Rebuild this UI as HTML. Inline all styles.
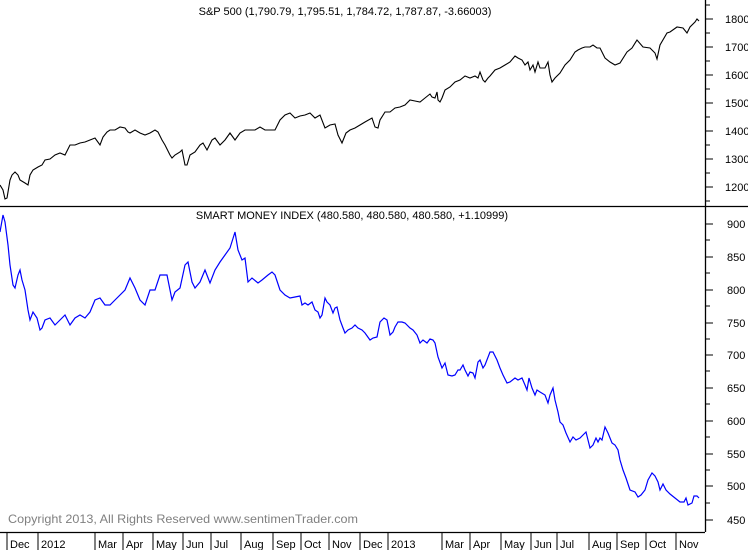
<!DOCTYPE html>
<html><head><style>
body{margin:0;background:#fff;}
svg{display:block;font-family:"Liberation Sans",Arial,sans-serif;}
</style></head><body>
<svg width="748" height="550" viewBox="0 0 748 550">
<rect width="748" height="550" fill="#fff"/>
<text x="345" y="15" font-size="11" text-anchor="middle" fill="#000">S&amp;P 500 (1,790.79, 1,795.51, 1,784.72, 1,787.87, -3.66003)</text>
<text x="352" y="219" font-size="11" text-anchor="middle" fill="#000">SMART MONEY INDEX (480.580, 480.580, 480.580, +1.10999)</text>
<text x="8" y="523" font-size="12" fill="#808080" textLength="350" lengthAdjust="spacingAndGlyphs">Copyright 2013, All Rights Reserved  www.sentimenTrader.com</text>
<g stroke="#000" stroke-width="1.3" fill="none">
<line x1="0" y1="206.5" x2="748" y2="206.5"/>
<line x1="705.5" y1="0" x2="705.5" y2="532"/>
<line x1="0" y1="532.5" x2="705" y2="532.5"/>
</g>
<g stroke="#000" stroke-width="1">
<path d="M705 5h5M705 19h8M705 33h5M705 47h8M705 61h5M705 75h8M705 89h5M705 103h8M705 117h5M705 131h8M705 145h5M705 159h8M705 173h5M705 187h8M705 201h5"/>
<path d="M705 224h8M705 240h5M705 257h8M705 273h5M705 290h8M705 306h5M705 323h8M705 339h5M705 355h8M705 371h5M705 388h8M705 404h5M705 421h8M705 437h5M705 454h8M705 470h5M705 486h8M705 503h5M705 520h8"/>
</g>
<g font-size="11" fill="#000">
<text x="725" y="23">1800</text><text x="725" y="51">1700</text><text x="725" y="79">1600</text><text x="725" y="107">1500</text><text x="725" y="135">1400</text><text x="725" y="163">1300</text><text x="725" y="191">1200</text>
<text x="727" y="228">900</text><text x="727" y="261">850</text><text x="727" y="294">800</text><text x="727" y="327">750</text><text x="727" y="359">700</text><text x="727" y="392">650</text><text x="727" y="425">600</text><text x="727" y="458">550</text><text x="727" y="490">500</text><text x="727" y="524">450</text>
</g>
<g stroke="#000" stroke-width="1">
<path d="M7 533v17M38 533v17M95 533v17M123 533v17M153 533v17M183 533v17M211 533v17M241 533v17M273 533v17M301 533v17M329 533v17M360 533v17M388 533v17M442 533v17M470 533v17M501 533v17M531 533v17M557 533v17M589 533v17M617 533v17M646 533v17M676 533v17"/>
</g>
<g font-size="11" fill="#000">
<text x="-6" y="548">v</text><text x="10" y="548">Dec</text><text x="41" y="548">2012</text><text x="98" y="548">Mar</text><text x="126" y="548">Apr</text><text x="156" y="548">May</text><text x="186" y="548">Jun</text><text x="214" y="548">Jul</text><text x="244" y="548">Aug</text><text x="276" y="548">Sep</text><text x="304" y="548">Oct</text><text x="332" y="548">Nov</text><text x="363" y="548">Dec</text><text x="391" y="548">2013</text><text x="445" y="548">Mar</text><text x="473" y="548">Apr</text><text x="504" y="548">May</text><text x="534" y="548">Jun</text><text x="560" y="548">Jul</text><text x="592" y="548">Aug</text><text x="620" y="548">Sep</text><text x="649" y="548">Oct</text><text x="679" y="548">Nov</text>
</g>
<polyline fill="none" stroke="#000" stroke-width="1.1" points="0,185 3,190 5,199 7,198 10,180 12,175 15,172 18,175 20,180 25,183 28,185 30,175 33,170 38,167 42,165 45,160 50,159 55,155 60,153 65,155 70,145 75,145 80,143 85,142 90,140 95,138 100,145 103,137 107,132 110,130 115,130 120,127 125,128 128,132 130,133 135,130 140,133 145,135 150,133 155,130 158,132 162,140 165,145 170,155 172,158 175,155 180,152 182,150 185,165 187,165 190,155 195,152 200,145 203,143 207,150 212,140 215,138 220,145 225,140 230,133 235,140 240,133 245,130 255,130 260,127 265,130 270,130 275,130 280,120 285,115 290,113 295,118 300,116 305,115 310,113 315,118 320,115 325,128 330,125 335,124 338,135 342,143 346,133 350,130 355,128 360,125 365,122 372,118 375,127 378,128 380,120 385,112 390,112 395,108 400,107 405,105 410,100 415,101 420,102 425,98 430,94 432,97 435,98 437,92 438,100 440,102 442,98 445,90 450,87 455,82 460,80 465,76 470,78 475,76 478,78 480,72 483,80 485,82 488,78 490,76 495,70 500,68 505,65 510,62 515,56 518,58 522,60 525,65 528,62 530,70 533,65 535,72 538,62 540,68 545,68 548,62 550,75 552,82 555,78 560,73 565,65 570,60 575,52 578,50 582,48 585,47 590,47 593,45 597,48 600,48 605,58 610,62 615,65 620,63 627,52 632,48 637,40 643,47 650,48 655,53 657,59 660,45 667,33 670,32 677,27 683,28 687,33 690,27 695,22 697,19 699,21"/>
<polyline fill="none" stroke="#0000ff" stroke-width="1.2" points="0,232 3,215 5,222 8,245 10,265 13,285 15,288 18,275 20,270 22,280 25,290 28,310 30,320 33,312 37,318 40,330 42,328 45,320 50,318 55,325 60,320 65,315 70,325 75,318 80,315 85,318 90,312 95,300 100,298 105,305 110,305 115,300 125,290 130,278 135,288 140,300 145,305 150,290 155,290 160,275 163,275 167,275 172,300 175,292 180,288 185,265 188,262 192,282 195,288 200,282 205,270 210,283 215,270 220,262 225,255 230,248 235,232 238,250 242,260 245,258 248,282 252,278 258,283 262,280 268,275 272,272 275,275 280,290 285,295 290,298 295,297 300,296 302,305 305,303 308,305 312,302 315,310 318,312 320,318 322,315 325,298 327,302 330,305 333,313 335,308 337,307 340,320 343,328 345,333 348,330 352,328 355,325 358,328 362,330 365,333 370,340 373,338 377,337 380,322 384,318 387,320 390,335 393,332 395,327 398,322 402,322 405,323 410,328 413,330 417,335 420,343 423,340 427,343 430,339 433,340 435,343 438,357 442,368 445,363 448,375 452,376 455,375 458,370 460,370 463,365 465,370 468,376 470,372 473,373 475,378 478,362 480,360 483,368 485,365 490,352 493,352 497,360 500,368 503,375 507,383 510,382 515,378 518,380 522,378 525,385 527,390 529,378 532,388 535,395 537,390 540,392 545,395 548,403 550,395 553,388 555,400 558,412 560,422 563,425 566,433 570,442 573,437 576,440 580,438 583,435 586,432 590,448 593,445 596,438 598,442 600,438 602,440 605,427 608,433 612,443 615,445 618,450 620,460 623,470 626,478 630,490 635,492 638,497 641,495 645,490 648,480 652,473 655,476 658,482 660,490 663,484 666,490 670,494 675,498 680,502 684,502 686,498 688,505 692,503 694,496 697,496 699,498"/>
</svg>
</body></html>
